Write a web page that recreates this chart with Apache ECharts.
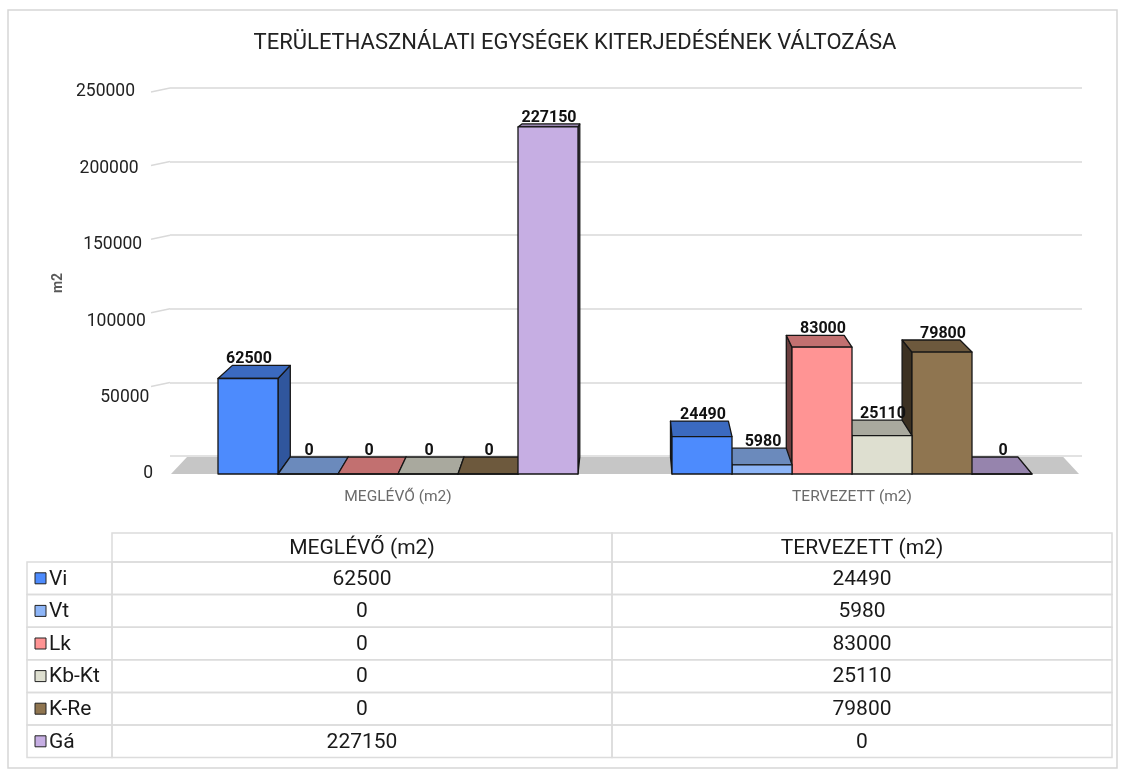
<!DOCTYPE html>
<html>

<head>
  <meta charset="UTF-8">
  <title>Területhasználati egységek</title>
  <style>
    body { margin: 0; background: #fff; }
  </style>
</head>

<body>
  <div id="main" style="width: 1124px; height: 775px;"></div>
  <script src="https://cdn.jsdelivr.net/npm/echarts@6/dist/echarts.min.js"></script>
  <script>
    // chart data
    const categories = ['MEGLÉVŐ (m2)', 'TERVEZETT (m2)'];
    const seriesNames = ['Vi', 'Vt', 'Lk', 'Kb-Kt', 'K-Re', 'Gá'];
    const viValues = [62500, 24490];
    const vtValues = [0, 5980];
    const lkValues = [0, 83000];
    const kbktValues = [0, 25110];
    const kreValues = [0, 79800];
    const gaValues = [227150, 0];
    const yTicks = [0, 50000, 100000, 150000, 200000, 250000];

    const seriesValues = [viValues, vtValues, lkValues, kbktValues, kreValues, gaValues];
    const barColors = ['#4d8bfd', '#8db5f7', '#ff9494', '#dedfd0', '#8f7550', '#c6aee3'];

    // fake perspective: back face is pulled towards this point
    const VP = [629, 54];
    const KX = 0.035, KY = 0.0405;
    const back = (p) => [p[0] + KX * (VP[0] - p[0]), p[1] + KY * (VP[1] - p[1])];

    function shade(hex, f) {
      const n = parseInt(hex.slice(1), 16);
      const r = Math.round(((n >> 16) & 255) * f);
      const g = Math.round(((n >> 8) & 255) * f);
      const b = Math.round((n & 255) * f);
      return `rgb(${r},${g},${b})`;
    }

    const GROUP_RATIO = 360 / 454;
    const edge = { stroke: '#161616', lineWidth: 1.3, lineJoin: 'round' };

    function barSeries(si) {
      return {
        type: 'custom',
        name: seriesNames[si],
        xAxisIndex: 0,
        yAxisIndex: 0,
        z: 3,
        data: categories.map((c, i) => [i, seriesValues[si][i]]),
        renderItem: (params, api) => {
          const ci = api.value(0), v = api.value(1);
          const top = api.coord([ci, v]);
          const base = api.coord([ci, 0]);
          const band = api.size([1, 0])[0];
          const groupW = band * GROUP_RATIO;
          const barW = groupW / seriesNames.length;
          const x0 = top[0] - groupW / 2 + si * barW, x1 = x0 + barW;
          const yT = top[1], yB = base[1];
          const cx = (x0 + x1) / 2;
          const zb = Math.round((1000 - Math.abs(cx - VP[0])) * 4);
          const col = barColors[si];
          const ftl = [x0, yT], ftr = [x1, yT], fbl = [x0, yB], fbr = [x1, yB];
          const btl = back(ftl), btr = back(ftr), bbl = back(fbl), bbr = back(fbr);
          const side = cx < VP[0]
            ? { pts: [ftr, fbr, bbr, btr], f: 0.62 }
            : { pts: [ftl, fbl, bbl, btl], f: 0.42 };
          return {
            type: 'group',
            children: [
              { type: 'polygon', z2: zb, shape: { points: side.pts }, style: Object.assign({ fill: shade(col, side.f) }, edge) },
              { type: 'polygon', z2: zb + 1, shape: { points: [ftl, ftr, btr, btl] }, style: Object.assign({ fill: shade(col, 0.76) }, edge) },
              { type: 'polygon', z2: zb + 2, shape: { points: [ftl, ftr, fbr, fbl] }, style: Object.assign({ fill: col }, edge) },
              {
                type: 'text', z2: 10000,
                style: {
                  text: String(v), x: cx + 1, y: btl[1] + 2,
                  align: 'center', verticalAlign: 'bottom',
                  fontSize: 16, fontWeight: 'bold', fontFamily: 'Roboto', fill: '#111'
                }
              }
            ]
          };
        }
      };
    }

    // data table under the chart, built from the same arrays
    const tbl = { x0: 27, xc: 112, colW: 500, top: 533, headH: 29, rowH: 32.6 };
    const cellStyle = { fill: 'none', stroke: '#dcdcdc', lineWidth: 1.5 };
    const txt = (text, x, y, align) => ({
      type: 'text',
      style: { text, x, y, align, verticalAlign: 'middle', fontSize: 21, fontFamily: 'Roboto', fill: '#1a1a1a' }
    });
    const tableEls = [];
    categories.forEach((c, i) => {
      const x = tbl.xc + i * tbl.colW;
      tableEls.push({ type: 'rect', shape: { x, y: tbl.top, width: tbl.colW, height: tbl.headH }, style: cellStyle });
      tableEls.push(txt(c, x + tbl.colW / 2, tbl.top + tbl.headH / 2 + 1, 'center'));
    });
    seriesNames.forEach((name, r) => {
      const y = tbl.top + tbl.headH + r * tbl.rowH;
      const ym = y + tbl.rowH / 2;
      tableEls.push({ type: 'rect', shape: { x: tbl.x0, y, width: tbl.xc - tbl.x0, height: tbl.rowH }, style: cellStyle });
      tableEls.push({ type: 'rect', shape: { x: 35, y: ym - 5.5, width: 11, height: 11 }, style: { fill: barColors[r], stroke: '#222', lineWidth: 1 } });
      tableEls.push(txt(name, 49, ym + 1, 'left'));
      categories.forEach((c, i) => {
        const x = tbl.xc + i * tbl.colW;
        tableEls.push({ type: 'rect', shape: { x, y, width: tbl.colW, height: tbl.rowH }, style: cellStyle });
        tableEls.push(txt(String(seriesValues[r][i]), x + tbl.colW / 2, ym + 1, 'center'));
      });
    });

    const rich = {};
    yTicks.forEach((t, i) => {
      rich['t' + i] = { fontSize: 17.5, color: '#222', fontFamily: 'Roboto', padding: [0, i * 3.6, 0, 0] };
    });

    const chartDom = document.getElementById('main');
    const myChart = echarts.init(chartDom);
    const option = {
      backgroundColor: '#fff',
      animation: false,
      textStyle: { fontFamily: 'Roboto' },
      title: {
        text: 'TERÜLETHASZNÁLATI EGYSÉGEK KITERJEDÉSÉNEK VÁLTOZÁSA',
        left: 570,
        textAlign: 'center',
        top: 27,
        textStyle: { fontSize: 22, fontWeight: 'normal', color: '#222', fontFamily: 'Roboto' }
      },
      grid: [
        // front plane of the bars
        { left: 171, right: 45, top: 92, bottom: 301 },
        // back wall with the gridlines
        { left: 170, right: 42, top: 88, bottom: 319 }
      ],
      xAxis: [{
        type: 'category',
        gridIndex: 0,
        data: categories,
        axisLine: { show: false },
        axisTick: { show: false },
        axisLabel: { color: '#6b6b6b', fontSize: 15.5, margin: 15 }
      }, {
        type: 'value',
        gridIndex: 1,
        min: 0,
        max: 1,
        show: false
      }],
      yAxis: [{
        type: 'value',
        gridIndex: 0,
        min: 0,
        max: 250000,
        interval: 50000,
        name: 'm2',
        nameLocation: 'middle',
        nameGap: 105,
        nameTextStyle: { fontSize: 14, fontWeight: 'bold', color: '#595959' },
        axisLine: { show: false },
        axisTick: { show: false },
        splitLine: { show: false },
        axisLabel: {
          margin: 18,
          formatter: (val, idx) => `{t${idx}|${val}}`,
          rich
        }
      }, {
        type: 'value',
        gridIndex: 1,
        min: 0,
        max: 250000,
        interval: 50000,
        axisLine: { show: false },
        axisTick: { show: false },
        axisLabel: { show: false },
        splitLine: { lineStyle: { color: '#d9d9d9', width: 1.5 } }
      }],
      graphic: [
        { type: 'rect', z: -1, shape: { x: 8, y: 10, width: 1109, height: 758 }, style: { fill: 'none', stroke: '#d6d6d6', lineWidth: 1.5 } },
        ...tableEls
      ],
      series: [
        {
          // left side wall pieces of the gridlines
          type: 'custom',
          xAxisIndex: 1,
          yAxisIndex: 1,
          z: 1,
          silent: true,
          data: yTicks.filter((t) => t > 0).map((t) => [0, t]),
          renderItem: (params, api) => {
            const p = api.coord([0, api.value(1)]);
            return {
              type: 'line',
              shape: { x1: p[0] - 19, y1: p[1] + 4, x2: p[0], y2: p[1] },
              style: { stroke: '#d9d9d9', lineWidth: 1.5 }
            };
          }
        },
        {
          // floor
          type: 'custom',
          xAxisIndex: 0,
          yAxisIndex: 0,
          z: 2,
          silent: true,
          data: [[0, 0]],
          renderItem: (params, api) => {
            const cs = params.coordSys;
            const yB = api.coord([0, 0])[1];
            const fl = [cs.x, yB], fr = [cs.x + cs.width, yB];
            return {
              type: 'polygon',
              shape: { points: [fl, fr, back(fr), back(fl)] },
              style: { fill: '#c6c6c6' }
            };
          }
        },
        ...seriesNames.map((n, si) => barSeries(si))
      ]
    };

    myChart.setOption(option);
  </script>
</body>

</html>
